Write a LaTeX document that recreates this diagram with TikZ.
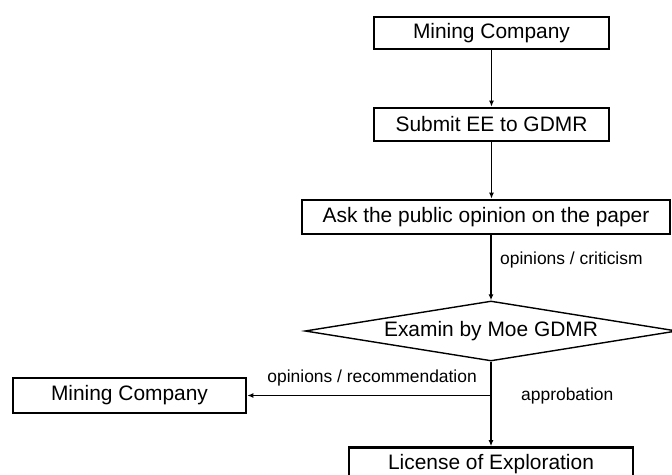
\documentclass[tikz,border=0pt]{standalone}
\usepackage{fontspec}
\setmainfont{Liberation Sans}
\usetikzlibrary{shapes.geometric,arrows.meta}
\begin{document}
\begin{tikzpicture}[x=1bp,y=-1bp,
  stepbox/.style={draw, line width=2.6bp, inner sep=0pt,
    font=\fontsize{21}{24}\selectfont},
  decision/.style={draw, diamond, aspect=6.2, line width=1.4bp, inner sep=0pt,
    minimum width=372bp, minimum height=60bp,
    font=\fontsize{21}{24}\selectfont},
  flow/.style={line width=1.3bp, -{Latex[length=6bp,width=5bp]}},
  lbl/.style={inner sep=0pt, font=\fontsize{17.5}{20}\selectfont}]
\useasboundingbox (0,0) rectangle (672,475);

% process steps
\node[stepbox, minimum width=235bp, minimum height=32bp] (company) at (491.5,33) {Mining Company};
\node[stepbox, minimum width=235bp, minimum height=33bp] (submit) at (491.5,124.5) {Submit EE to GDMR};
\node[stepbox, minimum width=368bp, minimum height=34bp] (public) at (486,217) {Ask the public opinion on the paper};
\node[decision] (exam) at (491,331) {Examin by Moe GDMR};
\node[stepbox, minimum width=233bp, minimum height=35bp] (back) at (129.5,395.5) {Mining Company};
% the last step runs past the lower edge of the page
\node[stepbox, minimum width=284bp, minimum height=33bp] (license) at (491,464) {License of Exploration};

% connectors
\draw[flow] (company.south) -- (submit.north);
\draw[flow] (submit.south) -- (submit.south |- public.north);
\draw[flow] (public.south -| exam.north) -- (exam.north);
\draw[flow] (exam.south) -- (license.north);
\coordinate (split) at (exam.south |- back.east);
\draw[flow] (split) -- (back.east);

% connector labels
\node[lbl, anchor=west] (lcrit) at (500,260) {opinions / criticism};
\node[lbl, anchor=east] (lrec) at (477,378) {opinions / recommendation};
\node[lbl, anchor=west] (lappr) at (521,396) {approbation};
\end{tikzpicture}
\end{document}
